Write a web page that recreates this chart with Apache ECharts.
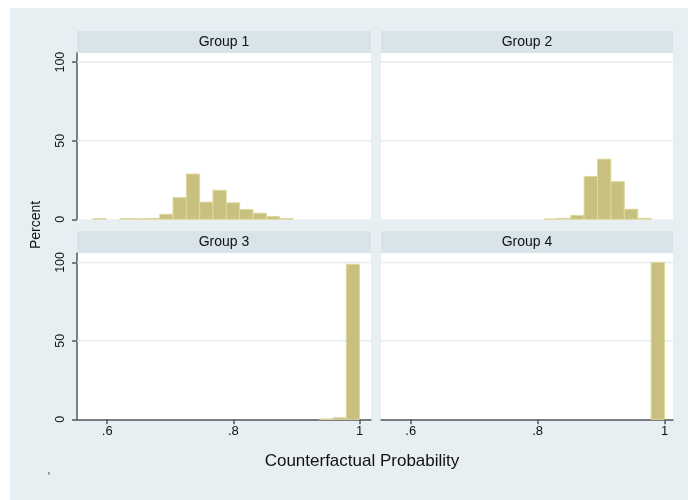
<!DOCTYPE html>
<html>
<head>
<meta charset="utf-8">
<script src="https://cdn.jsdelivr.net/npm/echarts@6/dist/echarts.min.js"></script>
<style>
  html, body { margin: 0; padding: 0; background: #ffffff; }
  #chart { width: 688px; height: 500px; }
</style>
</head>
<body>
<div id="chart"></div>
<script>
// Histogram bin edges shared by all four groups (20 bins)
const binEdges = [0.5775, 0.5986, 0.6198, 0.6409, 0.6620, 0.6831, 0.7043, 0.7254,
                  0.7465, 0.7676, 0.7888, 0.8099, 0.8310, 0.8521, 0.8733, 0.8944,
                  0.9155, 0.9366, 0.9578, 0.9789, 1.0000];

// Percent of observations in each bin, per group
const group1Pct = [0.4, 0, 0.4, 0.3, 0.6, 3.2, 13.8, 28.8, 10.9, 18.5,
                   10.5, 6.3, 3.9, 1.8, 0.5, 0, 0, 0, 0, 0];
const group2Pct = [0, 0, 0, 0, 0, 0, 0, 0, 0, 0,
                   0, 0.2, 0.6, 2.5, 27.3, 38.3, 24.0, 6.4, 0.6, 0];
const group3Pct = [0, 0, 0, 0, 0, 0, 0, 0, 0, 0,
                   0, 0, 0, 0, 0, 0, 0, 0.2, 1.0, 98.8];
const group4Pct = [0, 0, 0, 0, 0, 0, 0, 0, 0, 0,
                   0, 0, 0, 0, 0, 0, 0, 0, 0, 100];

const groupNames = ['Group 1', 'Group 2', 'Group 3', 'Group 4'];
const xTickValues = [0.6, 0.8, 1];
const xTickLabels = ['.6', '.8', '1'];
const yTickValues = [0, 50, 100];
const yTickLabels = ['0', '50', '100'];
const xTitle = 'Counterfactual Probability';
const yTitle = 'Percent';

const FONT = 'Liberation Sans, Arial, Helvetica, sans-serif';
const BG = '#e8eff2';
const STRIP = '#d8e4ea';
const BAR_FILL = '#c8c07e';
const BAR_EDGE = '#e0d8a2';
const AXIS = '#555a5e';

// Panel layout: [left, top, width, height, xMin, xMax]
const panels = [
  [77, 53, 294, 166.3, 0.5521, 1.0181],
  [381, 53, 292, 166.3, 0.5531, 1.0134],
  [77, 253.3, 294, 166, 0.5521, 1.0181],
  [381, 253.3, 292, 166, 0.5531, 1.0134]
];
const Y_MAX = 105.8;

const groupPcts = [group1Pct, group2Pct, group3Pct, group4Pct];

function histData(pcts) {
  const out = [];
  pcts.forEach((p, i) => {
    if (p > 0) out.push([binEdges[i], binEdges[i + 1], p]);
  });
  return out;
}

function renderBar(params, api) {
  const x0 = api.value(0), x1 = api.value(1), v = api.value(2);
  const topLeft = api.coord([x0, v]);
  const bottomRight = api.coord([x1, 0]);
  return {
    type: 'rect',
    shape: {
      x: topLeft[0],
      y: topLeft[1],
      width: bottomRight[0] - topLeft[0],
      height: bottomRight[1] - topLeft[1]
    },
    style: { fill: BAR_FILL, stroke: BAR_EDGE, lineWidth: 1 }
  };
}

const grids = panels.map(p => ({
  left: p[0], top: p[1], width: p[2], height: p[3],
  backgroundColor: '#ffffff', show: true, borderWidth: 0
}));

const xAxes = panels.map((p, i) => {
  const bottomRow = i >= 2;
  return {
    type: 'value', gridIndex: i, min: p[4], max: p[5],
    axisLine: { show: bottomRow, onZero: false, lineStyle: { color: AXIS, width: 1.5 } },
    axisTick: { show: bottomRow, length: 5, customValues: xTickValues,
                lineStyle: { color: AXIS, width: 1.5 } },
    axisLabel: {
      show: bottomRow, customValues: xTickValues, margin: 6,
      fontFamily: FONT, fontSize: 13, color: '#111',
      formatter: v => xTickLabels[xTickValues.findIndex(t => Math.abs(t - v) < 1e-6)]
    },
    splitLine: { show: false }
  };
});

const yAxes = panels.map((p, i) => {
  const leftCol = i % 2 === 0;
  return {
    type: 'value', gridIndex: i, min: 0, max: Y_MAX,
    axisLine: { show: leftCol, lineStyle: { color: AXIS, width: 1.5 } },
    axisTick: { show: leftCol, length: 5, customValues: yTickValues,
                lineStyle: { color: AXIS, width: 1.5 } },
    axisLabel: {
      show: leftCol, customValues: yTickValues, rotate: 90, margin: 10,
      fontFamily: FONT, fontSize: 12.5, color: '#111',
      formatter: v => yTickLabels[yTickValues.findIndex(t => Math.abs(t - v) < 1e-6)]
    },
    splitLine: { show: false }
  };
});

// Horizontal reference lines at 50 and 100 in each panel
const gridLineSeries = panels.map((p, i) => ({
  type: 'custom', xAxisIndex: i, yAxisIndex: i, silent: true, z: 1,
  data: [50, 100],
  renderItem: (params, api) => {
    const v = api.value(0);
    const a = api.coord([p[4], v]);
    const b = api.coord([p[5], v]);
    return { type: 'line', shape: { x1: a[0], y1: a[1], x2: b[0], y2: b[1] },
             style: { stroke: '#e4ecef', lineWidth: 1.5 } };
  },
  encode: { y: 0 }
}));

const barSeries = groupPcts.map((pcts, i) => ({
  type: 'custom', name: groupNames[i], xAxisIndex: i, yAxisIndex: i, z: 2,
  renderItem: renderBar,
  encode: { x: [0, 1], y: 2 },
  data: histData(pcts)
}));

// Background, panel header strips and titles
const graphics = [
  { type: 'rect', z: -10, silent: true, shape: { x: 10, y: 8, width: 678, height: 492 },
    style: { fill: BG } }
];
panels.forEach((p, i) => {
  const stripTop = p[1] - 22;
  graphics.push({ type: 'rect', z: -5, silent: true,
    shape: { x: p[0], y: stripTop, width: p[2], height: 22 }, style: { fill: STRIP } });
  graphics.push({ type: 'text', z: 5, silent: true, x: p[0] + p[2] / 2, y: stripTop + 11,
    style: { text: groupNames[i], font: '14px ' + FONT, fill: '#111',
             textAlign: 'center', textVerticalAlign: 'middle' } });
});
graphics.push({ type: 'text', silent: true, x: 362, y: 461,
  style: { text: xTitle, font: '17px ' + FONT, fill: '#111',
           textAlign: 'center', textVerticalAlign: 'middle' } });
graphics.push({ type: 'text', silent: true, x: 36, y: 225, rotation: Math.PI / 2,
  style: { text: yTitle, font: '14px ' + FONT, fill: '#111',
           textAlign: 'center', textVerticalAlign: 'middle' } });
graphics.push({ type: 'text', silent: true, x: 49, y: 477,
  style: { text: "'", font: '13px ' + FONT, fill: '#555',
           textAlign: 'center', textVerticalAlign: 'middle' } });

const chart = echarts.init(document.getElementById('chart'), null, { renderer: 'canvas' });
chart.setOption({
  animation: false,
  backgroundColor: '#ffffff',
  grid: grids,
  xAxis: xAxes,
  yAxis: yAxes,
  graphic: graphics,
  series: gridLineSeries.concat(barSeries)
});
</script>
</body>
</html>
